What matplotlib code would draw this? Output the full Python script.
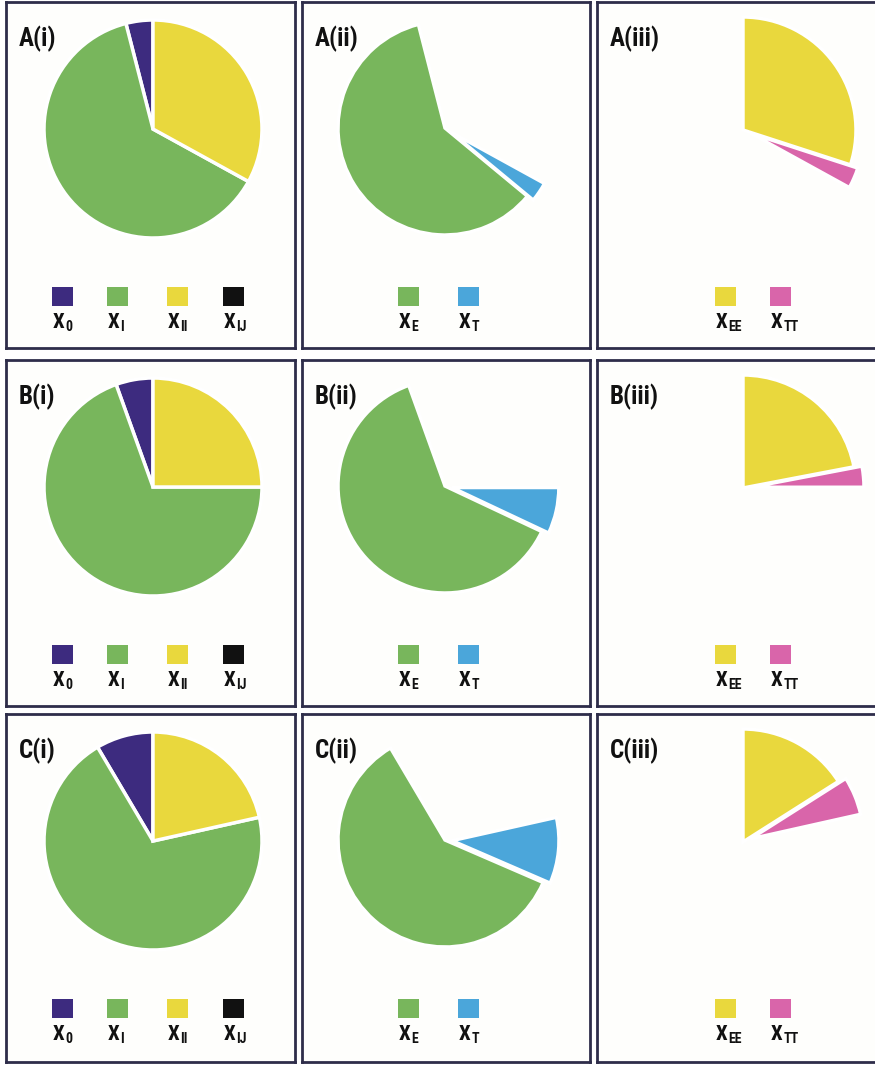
import matplotlib
matplotlib.use('Agg')
import matplotlib.pyplot as plt
from matplotlib.patches import Rectangle

plt.rcParams['font.family'] = ['Roboto Condensed', 'Archivo Narrow', 'Asap Condensed',
                               'Liberation Sans Narrow', 'DejaVu Sans']

# data (percent of total), one entry per case A, B, C
cases = ['A', 'B', 'C']
x_0 = [4.0, 5.5, 8.5]
x_i = [63.0, 69.5, 70.0]
x_ii = [33.0, 25.0, 21.5]
x_ij = [0.0, 0.0, 0.0]
x_e = [60.0, 62.5, 60.0]
x_t = [3.0, 7.0, 10.0]
x_ee = [30.0, 22.0, 16.0]
x_tt = [3.0, 3.0, 5.5]

subs_i = ['0', 'I', 'II', 'IJ']
subs_ii = ['E', 'T']
subs_iii = ['EE', 'TT']

purple = '#3d2b7f'
green = '#78b65c'
yellow = '#e9d83d'
black = '#111111'
blue = '#4ba6da'
pink = '#d965aa'
navy = '#2e2d4a'

W, H = 875, 1066
fig = plt.figure(figsize=(W / 100, H / 100), dpi=100)
fig.patch.set_facecolor('white')

col_x = [6, 302, 597]
col_w = [289, 288, 292]
row_y = [2, 360, 714]
row_h = [346, 346, 348]

centers = [(147, 127), (143, 126), (146, 128)]
radii = [109, 107, 113]
legend_x = [[46, 101, 161, 217], [96, 156], [118, 173]]
roman = ['i', 'ii', 'iii']


def panel(r, c):
    x0, y0, w, h = col_x[c], row_y[r], col_w[c], row_h[r]
    ax = fig.add_axes([x0 / W, 1 - (y0 + h) / H, w / W, h / H])
    return ax, w, h


for r, case in enumerate(cases):
    for c in range(3):
        ax, w, h = panel(r, c)
        cx, cy = centers[c]
        center = (cx, h - cy)
        if c == 0:
            vals = [x_0[r], x_i[r], x_ii[r], x_ij[r]]
            cols = [purple, green, yellow, black]
            hidden = [v == 0 for v in vals]
            expl = [0, 0, 0, 0]
            leg_cols, leg_subs = cols, subs_i
        elif c == 1:
            vals = [x_0[r], x_e[r], x_t[r], x_ii[r]]
            cols = ['white', green, blue, 'white']
            hidden = [True, False, False, True]
            expl = [0, 0, 7, 0]
            leg_cols, leg_subs = [green, blue], subs_ii
        else:
            vals = [x_0[r], x_i[r], x_tt[r], x_ee[r]]
            cols = ['white', 'white', pink, yellow]
            hidden = [True, True, False, False]
            expl = [0, 0, 8, 0]
            leg_cols, leg_subs = [yellow, pink], subs_iii

        wedges, _ = ax.pie(vals, colors=cols, startangle=90, counterclock=True,
                           radius=radii[c], center=center, explode=expl,
                           wedgeprops=dict(edgecolor='white', linewidth=2.5),
                           frame=True)
        for wd, hd in zip(wedges, hidden):
            if hd:
                wd.set_visible(False)

        ax.set_xlim(0, w)
        ax.set_ylim(0, h)
        ax.set_aspect('auto')
        ax.set_xticks([])
        ax.set_yticks([])
        ax.set_facecolor('#fefefc')
        for s in ax.spines.values():
            s.set_color(navy)
            s.set_linewidth(2)

        ax.text(13, h - 24, case + '(' + roman[c] + ')', fontsize=18,
                fontweight='black', va='top', ha='left', color='#111111')

        for lx, lc, ls in zip(legend_x[c], leg_cols, leg_subs):
            ax.add_patch(Rectangle((lx, h - 304), 21, 19, facecolor=lc,
                                   edgecolor='none'))
            t = ax.text(lx + 1, h - 311, 'X', fontsize=15, fontweight='black',
                        va='top', ha='left', color='#111111')
            ax.annotate(ls, xy=(1, 0), xycoords=t, xytext=(0.5, -1.5),
                        textcoords='offset points', fontsize=10,
                        fontweight='black', va='bottom', ha='left',
                        color='#111111')

fig.savefig('out.png', dpi=100, facecolor='white')
